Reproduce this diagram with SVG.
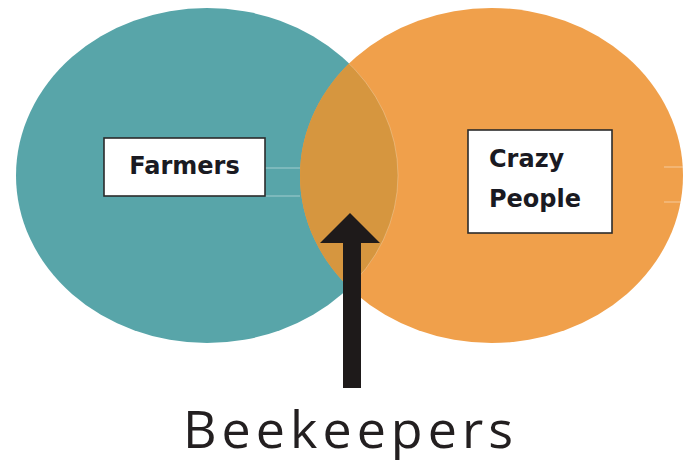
<svg xmlns="http://www.w3.org/2000/svg" width="694" height="462" viewBox="0 0 694 462">
  <defs>
    <clipPath id="orangeClip">
      <ellipse cx="491.5" cy="175.5" rx="191.5" ry="167.5"/>
    </clipPath>
    <style>
      .box { fill: #ffffff; stroke: #2b2b2b; stroke-width: 1.6; }
      .lbl { font-family: "DejaVu Sans", Verdana, sans-serif; font-weight: bold; font-size: 24px; fill: #1a1a22; }
      .faint { stroke: #ffffff; stroke-opacity: 0.45; stroke-width: 1; }
    </style>
  </defs>
  <rect width="694" height="462" fill="#ffffff"/>

  <g id="set-farmers">
    <ellipse cx="207" cy="175.5" rx="191" ry="167.5" fill="#58A5A9"/>
  </g>
  <g id="set-crazy">
    <ellipse cx="491.5" cy="175.5" rx="191.5" ry="167.5" fill="#F0A04B"/>
  </g>
  <g id="overlap">
    <ellipse cx="207" cy="175.5" rx="191" ry="167.5" fill="#D6963F" clip-path="url(#orangeClip)"/>
    <ellipse cx="207" cy="175.5" rx="191" ry="167.5" fill="none" stroke="#ffffff" stroke-opacity="0.25" stroke-width="1" clip-path="url(#orangeClip)"/>
  </g>

  <g id="faint-lines">
    <line class="faint" x1="265" y1="168" x2="300" y2="168"/>
    <line class="faint" x1="265" y1="196" x2="300" y2="196"/>
    <line class="faint" x1="664" y1="167" x2="683" y2="167"/>
    <line class="faint" x1="664" y1="202" x2="683" y2="202"/>
  </g>

  <g id="node-farmers">
    <rect class="box" x="104" y="138" width="161" height="58"/>
    <text class="lbl" x="184.5" y="174" text-anchor="middle">Farmers</text>
  </g>

  <g id="node-crazy-people">
    <rect class="box" x="468" y="130" width="144" height="103"/>
    <text class="lbl" x="489" y="167">Crazy</text>
    <text class="lbl" x="489" y="207">People</text>
  </g>

  <g id="connectors">
    <rect x="343" y="240" width="18" height="148" fill="#1E1A1A"/>
    <polygon points="350,213 380,243 320,243" fill="#1E1A1A"/>
  </g>

  <g id="node-beekeepers">
    <text x="183" y="448" font-family="'Open Sans', 'DejaVu Sans', sans-serif" font-size="52" fill="#231F20" textLength="330" lengthAdjust="spacing">Beekeepers</text>
  </g>
</svg>
